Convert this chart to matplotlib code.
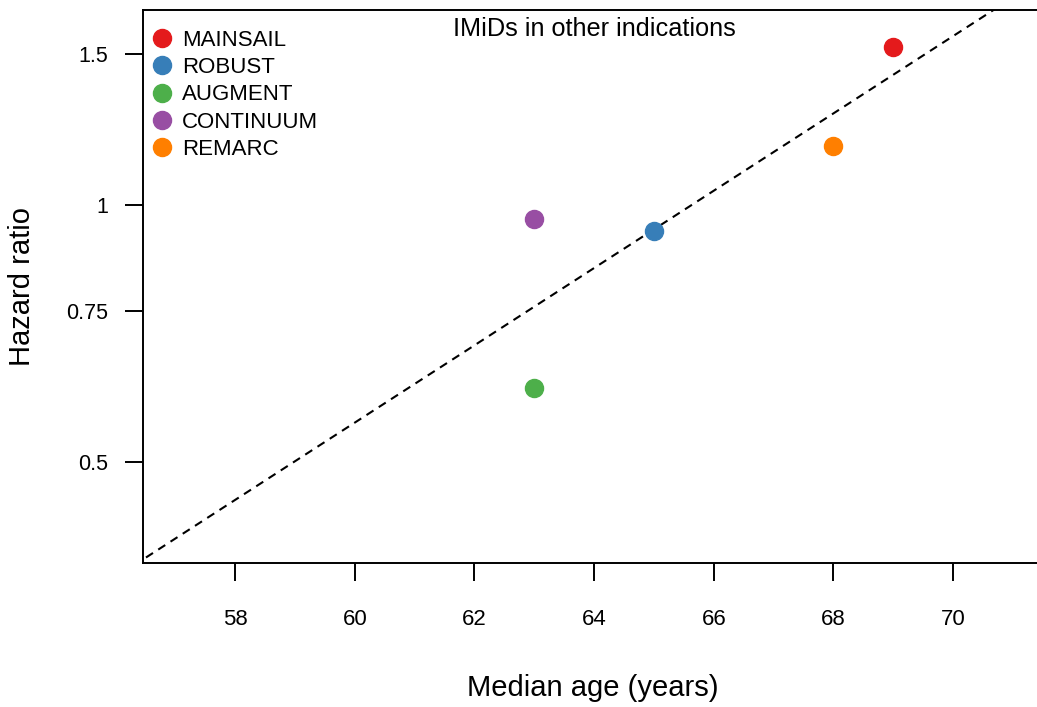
import numpy as np
import matplotlib
matplotlib.use('Agg')
import matplotlib.pyplot as plt
from matplotlib.ticker import FixedLocator, NullLocator

plt.rcParams['font.family'] = ['Liberation Sans', 'DejaVu Sans']

# Données
trials = ['MAINSAIL', 'ROBUST', 'AUGMENT', 'CONTINUUM', 'REMARC']
median_age = [69, 65, 63, 63, 68]
hazard_ratio = [1.53, 0.93, 0.61, 0.963, 1.17]
colors = ['#E41A1C', '#377EB8', '#4DAF4A', '#984EA3', '#FF7F00']
xticks = [58, 60, 62, 64, 66, 68, 70]
yticks = [0.5, 0.75, 1, 1.5]
ytick_labels = ['0.5', '0.75', '1', '1.5']

W, H = 1037, 707
ax_w = 940  # l'axe déborde à droite, comme sur l'original
fig = plt.figure(figsize=(W / 100, H / 100), dpi=100)
ax = fig.add_axes([143 / W, 144 / H, ax_w / W, 553 / H])

# Points
for t, a, h, c in zip(trials, median_age, hazard_ratio, colors):
    ax.plot(a, h, 'o', color=c, markersize=13, label=t, zorder=3)

# Droite de régression (log HR ~ âge)
slope, intercept = np.polyfit(median_age, np.log(hazard_ratio), 1)
xx = np.array([50, 80])
ax.plot(xx, np.exp(intercept + slope * xx), '--', color='black', lw=1.5,
        dashes=(4, 3), zorder=2)

ax.set_yscale('log')
ax.set_xlim(56.46, 56.46 + ax_w / 59.83)
ax.set_ylim(0.3806, 1.689)
ax.yaxis.set_major_locator(FixedLocator(yticks))
ax.yaxis.set_minor_locator(NullLocator())
ax.set_yticklabels(ytick_labels)
ax.set_xticks(xticks)

for s in ax.spines.values():
    s.set_linewidth(1.4)
ax.spines['right'].set_visible(False)
ax.tick_params(axis='x', length=13, width=1.4, pad=20, labelsize=16)
ax.tick_params(axis='y', length=13, width=1.4, pad=12, labelsize=15.5)

fig.text(593 / W, 1 - 688 / H, 'Median age (years)', fontsize=21,
         ha='center', va='center')
fig.text(22 / W, 1 - 287 / H, 'Hazard ratio', fontsize=21,
         ha='center', va='center', rotation=90)
fig.text(594 / W, 1 - 29 / H, 'IMiDs in other indications', fontsize=18.2,
         ha='center', va='center')

ax.legend(loc='upper left', bbox_to_anchor=(10 / ax_w, 1 - 20 / 553),
          frameon=False, fontsize=16, handletextpad=0.5,
          labelspacing=0.28, borderaxespad=0, handlelength=0.8,
          borderpad=0)

fig.savefig('out.png', dpi=100)
